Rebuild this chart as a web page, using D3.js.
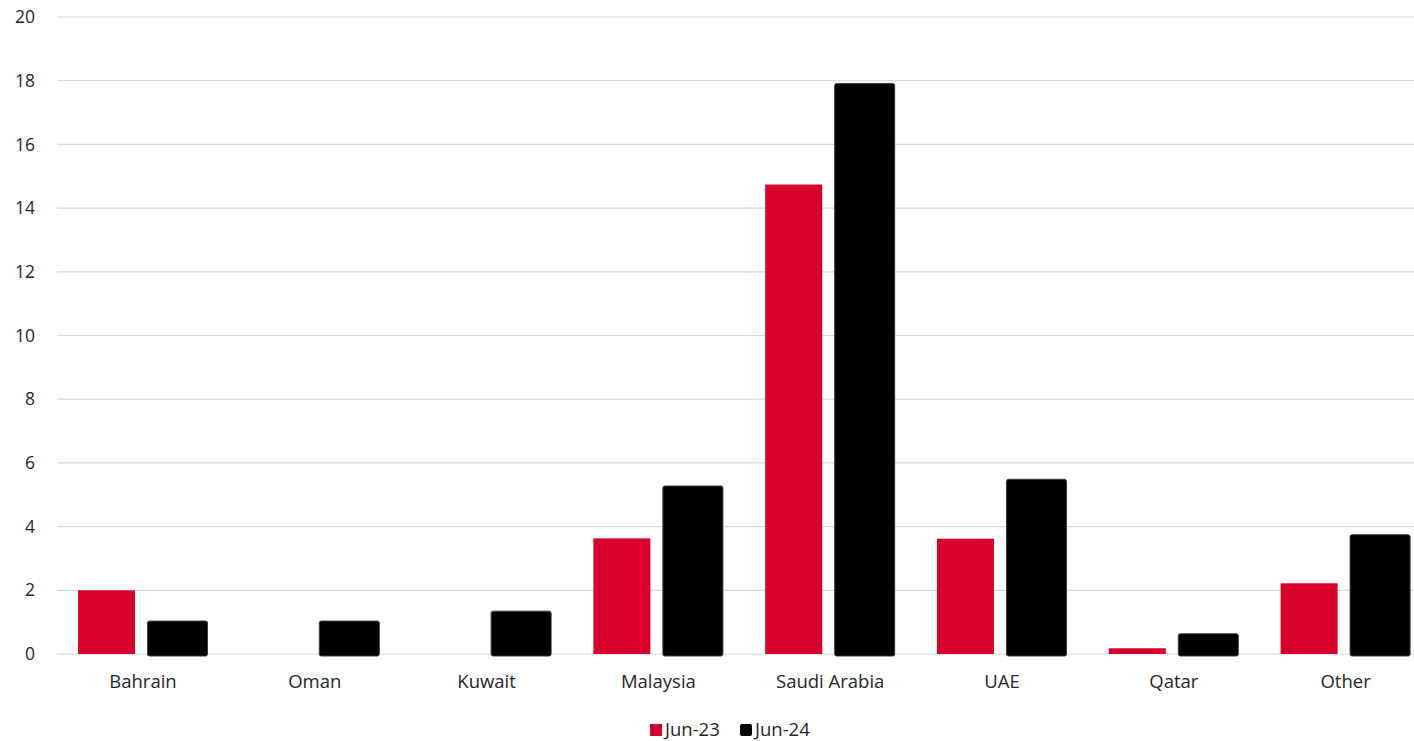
<!DOCTYPE html>
<html>
<head>
<meta charset="utf-8">
<script src="https://cdn.jsdelivr.net/npm/d3@7"></script>
<style>
  html, body { margin: 0; padding: 0; background: #fff; }
  svg { display: block; font-family: "Open Sans", "Noto Sans", sans-serif; }
</style>
</head>
<body>
<svg id="chart" width="1414" height="741"></svg>
<script>
// Categories and the two period series
const categories = ["Bahrain", "Oman", "Kuwait", "Malaysia", "Saudi Arabia", "UAE", "Qatar", "Other"];
const jun23 = [2.0, 0, 0, 3.63, 14.74, 3.62, 0.18, 2.22];
const jun24 = [1.05, 1.05, 1.36, 5.29, 17.93, 5.5, 0.65, 3.76];
const seriesNames = ["Jun-23", "Jun-24"];
const yTicks = [0, 2, 4, 6, 8, 10, 12, 14, 16, 18, 20];

const colors = { "Jun-23": "#d7002c", "Jun-24": "#000000" };
const textColor = "#262626";

const svg = d3.select("#chart");
const plotLeft = 57.1, plotTop = 17, plotBottom = 654;
const step = 171.8;

const x = d3.scaleBand()
  .domain(categories)
  .range([plotLeft, plotLeft + step * categories.length])
  .paddingInner(0).paddingOuter(0);

const y = d3.scaleLinear().domain([0, 20]).range([plotBottom, plotTop]);

// Horizontal gridlines
svg.append("g")
  .selectAll("line")
  .data(yTicks)
  .join("line")
  .attr("x1", plotLeft).attr("x2", 1414)
  .attr("y1", d => y(d)).attr("y2", d => y(d))
  .attr("stroke", "#d9d9d9").attr("stroke-width", 1.2);

// Y axis labels
const yAxis = d3.axisLeft(y).tickValues(yTicks).tickSize(0).tickPadding(0);
const gy = svg.append("g").attr("transform", "translate(35,0)").call(yAxis);
gy.select(".domain").remove();
gy.selectAll("text")
  .attr("fill", textColor)
  .style("font-size", "17.5px")
  .style("font-family", "'Open Sans', sans-serif");

// Category labels
const xAxis = d3.axisBottom(x).tickSize(0).tickPadding(0);
const gx = svg.append("g").attr("transform", `translate(0,${plotBottom})`).call(xAxis);
gx.select(".domain").remove();
gx.selectAll("text")
  .attr("fill", textColor)
  .attr("dy", 0)
  .attr("y", 34)
  .style("font-size", "18.5px")
  .style("font-family", "'Open Sans', sans-serif");

const center = c => x(c) + x.bandwidth() / 2;

// Jun-23 bars
svg.append("g")
  .selectAll("rect")
  .data(categories.map((c, i) => ({ c, v: jun23[i] })))
  .join("rect")
  .attr("x", d => center(d.c) - 65)
  .attr("width", 57)
  .attr("y", d => y(d.v))
  .attr("height", d => Math.max(0, y(0) - y(d.v)))
  .attr("fill", colors["Jun-23"]);

// Jun-24 bars, with a soft outline and rounded corners
svg.append("g")
  .selectAll("rect")
  .data(categories.map((c, i) => ({ c, v: jun24[i] })))
  .join("rect")
  .attr("x", d => center(d.c) + 4.5)
  .attr("width", 60)
  .attr("y", d => y(d.v) + 0.5)
  .attr("height", d => Math.max(0, y(0) - y(d.v) + 1.5))
  .attr("rx", 2).attr("ry", 2)
  .attr("fill", colors["Jun-24"])
  .attr("stroke", "#3a3a3a").attr("stroke-width", 1);

// Legend
const legend = svg.append("g").attr("transform", "translate(650,724)");
const legendItems = [
  { name: seriesNames[0], x: 0, rx: 0 },
  { name: seriesNames[1], x: 90, rx: 2 }
];
const li = legend.selectAll("g").data(legendItems).join("g")
  .attr("transform", d => `translate(${d.x},0)`);
li.append("rect")
  .attr("width", 12).attr("height", 12)
  .attr("rx", d => d.rx)
  .attr("fill", d => colors[d.name]);
li.append("text")
  .attr("x", 15).attr("y", 11.5)
  .attr("fill", textColor)
  .style("font-size", "18.5px")
  .text(d => d.name);
</script>
</body>
</html>
